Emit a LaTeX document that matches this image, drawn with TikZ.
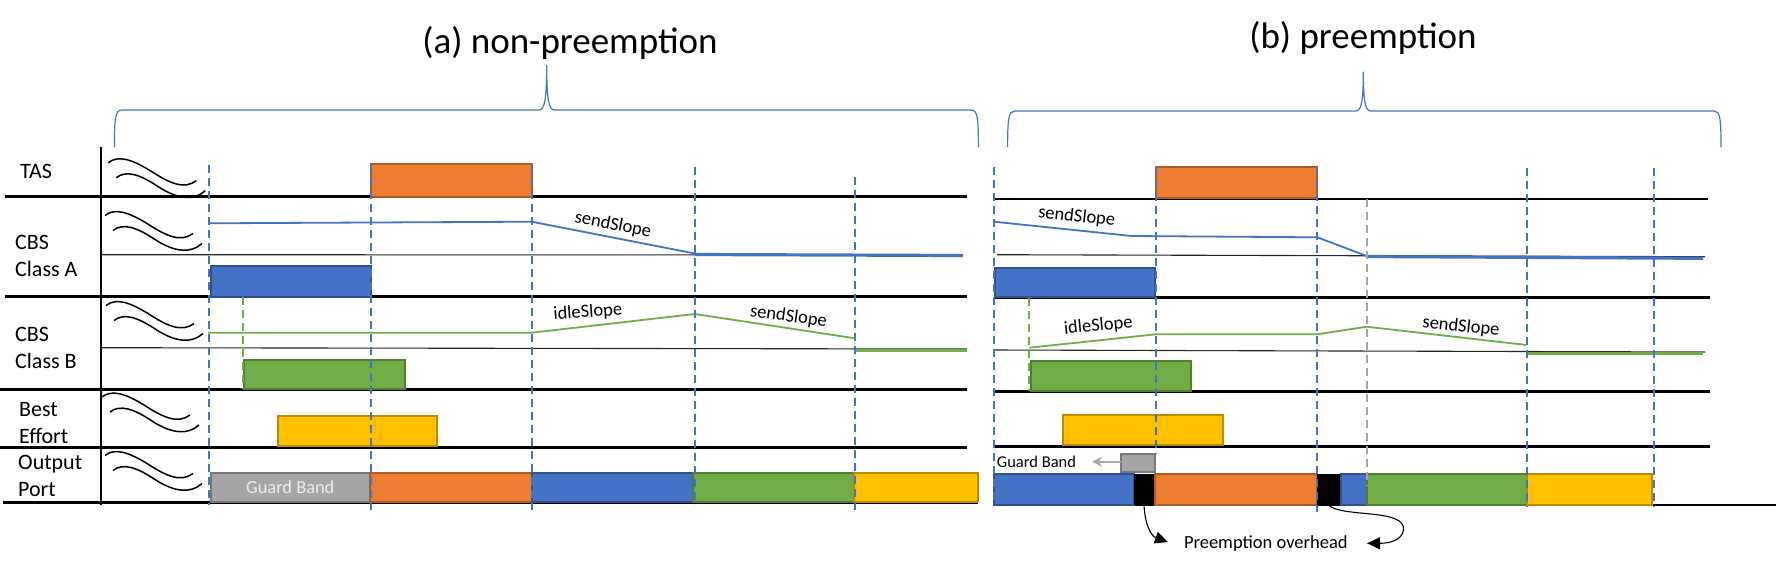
\documentclass[tikz,border=0pt]{standalone}
\usepackage{fontspec}
\setmainfont{Carlito}
\usetikzlibrary{arrows.meta}
\definecolor{cOr}{HTML}{ED7D31}\definecolor{cOrD}{HTML}{AE5A21}
\definecolor{cBl}{HTML}{4472C4}\definecolor{cBlD}{HTML}{2F528F}
\definecolor{cGr}{HTML}{70AD47}\definecolor{cGrD}{HTML}{507E32}
\definecolor{cYe}{HTML}{FFC000}\definecolor{cYeD}{HTML}{BC8C00}
\definecolor{cGy}{HTML}{A5A5A5}\definecolor{cGyD}{HTML}{787878}
\begin{document}
\begin{tikzpicture}[x=1pt,y=-1pt,
  lane/.style={line width=2.6pt,black},
  thinref/.style={line width=1.1pt,black!85},
  vd/.style={draw=cBl,line width=1.8pt,dash pattern=on 8pt off 5pt},
  gd/.style={draw=cGr,line width=1.8pt,dash pattern=on 8pt off 5pt},
  yd/.style={draw=cGy,line width=1.8pt,dash pattern=on 8pt off 5pt},
  ob/.style={line width=1.8pt,fill=cOr,draw=cOrD},
  bb/.style={line width=1.8pt,fill=cBl,draw=cBlD},
  gb/.style={line width=1.8pt,fill=cGr,draw=cGrD},
  yb/.style={line width=1.8pt,fill=cYe,draw=cYeD},
  sb/.style={line width=1.8pt,fill=cGy,draw=cGyD},
  kb/.style={fill=black},
  lbl/.style={font=\fontsize{22}{27}\selectfont,inner sep=0pt,anchor=west,align=left},
  slope/.style={font=\fontsize{18.5}{22}\selectfont,inner sep=0pt},
  title/.style={font=\fontsize{37}{44}\selectfont,inner sep=0pt,anchor=base},
  bcurve/.style={draw=cBl,line width=1.8pt},
  gcurve/.style={draw=cGr,line width=1.8pt},
  bflat/.style={draw=cBl,line width=3.2pt},
  gflat/.style={draw=cGr,line width=3.2pt},
  brace/.style={draw=cBl,line width=1.2pt},
  wave/.pic={
    \draw[line width=1.5pt] (0,0) .. controls (10,-8) and (24,-3) .. (42,8) .. controls (62,21) and (76,27) .. (88,18);
    \draw[line width=1.5pt] (8,15) .. controls (18,7) and (32,12) .. (50,24) .. controls (70,37) and (86,38) .. (97,28);
  }
]
\fill[white] (0,0) rectangle (1778,566);
\useasboundingbox (0,0) rectangle (1778,566);

% ---------- titles and braces ----------
\node[title] (ta) at (570,53.3) {(a) non-preemption};
\node[title] (tb) at (1363,48.3) {(b) preemption};
\draw[brace] (114.4,147) .. controls (114.4,117) and (115.5,110) .. (122,110) -- (539,110)
  .. controls (544.5,110) and (546.7,100) .. (546.7,65)
  .. controls (546.7,100) and (548.9,110) .. (554.4,110) -- (971,110)
  .. controls (977.5,110) and (978.4,117) .. (978.4,147);
\draw[brace] (1007.6,147) .. controls (1007.6,118) and (1008.7,111) .. (1015,111) -- (1356,111)
  .. controls (1361.3,111) and (1363.3,101) .. (1363.3,71.7)
  .. controls (1363.3,101) and (1365.3,111) .. (1370.6,111) -- (1714,111)
  .. controls (1720,111) and (1721,118) .. (1721,147);

% ---------- row labels ----------
\node[lbl] (ltas) at (20,171.7) {TAS};
\node[lbl] (lcbsa) at (15,256) {CBS\\Class A};
\node[lbl] (lcbsb) at (15,347.5) {CBS\\Class B};
\node[lbl] (lbe) at (19,423.5) {Best\\Effort};
\node[lbl] (lout) at (18,476) {Output\\Port};

% ---------- panel (a) frame ----------
\draw[line width=2.8pt] (101,147) -- (101,505);
\draw[lane] (5,196.7) -- (967,196.7);
\draw[lane] (5,296.7) -- (967,296.7);
\draw[lane] (0,389.3) -- (967,389.3);
\draw[lane] (0,447.7) -- (967,447.7);
\draw[lane] (3,502.7) -- (978,502.7);
\draw[thinref] (101,254.7) -- (963,255);
\draw[thinref] (101,347.7) -- (967,349);

\pic at (108.3,162.7) {wave};
\pic at (105,215.5) {wave};
\pic at (106,305.5) {wave};
\pic at (102,397) {wave};
\pic at (105,455.5) {wave};

% ---------- panel (a) boxes ----------
\draw[ob] (371,164.3) rectangle (531.7,196.7);
\draw[bb] (211,265.7) rectangle (371,296.7);
\draw[gb] (244.3,360) rectangle (405.3,389);
\draw[yb] (278,416) rectangle (437,445.7);
\draw[sb] (210.7,473) rectangle (370,502);
\draw[ob] (370,473) rectangle (531.7,502);
\draw[bb] (531.7,473) rectangle (692.7,502);
\draw[gb] (692.7,473) rectangle (854,502);
\draw[yb] (854,473) rectangle (977.9,502);
\node[font=\fontsize{18.4}{22}\selectfont,text=white!93!black,inner sep=0pt] (gba) at (290.3,487.5) {Guard Band};

% ---------- panel (a) credit curves ----------
\draw[bcurve] (208,223.3) -- (531.7,221.7) -- (694.8,253.5);
\draw[bflat] (694.8,254.5) -- (962.8,255.5);
\draw[gcurve] (208,332.7) -- (531.7,332.7) -- (694.8,314) -- (855,338.3);
\draw[gflat] (855,350.5) -- (967,350.5);
\node[slope,rotate=-11] (sa1) at (613,225) {sendSlope};
\node[slope,rotate=4] (ia1) at (587.8,312.3) {idleSlope};
\node[slope,rotate=-8] (sa2) at (788.5,316.7) {sendSlope};

% ---------- panel (a) dashed markers ----------
\draw[vd] (208.7,165) -- (208.7,505);
\draw[vd] (371,165) -- (371,510);
\draw[vd] (531.7,165) -- (531.7,510);
\draw[vd] (694.8,167) -- (694.8,505);
\draw[vd] (855,177) -- (855,513);
\draw[gd] (243.3,297) -- (243.3,389);

% ---------- panel (b) frame ----------
\draw[lane] (993,199) -- (1708,199);
\draw[lane] (994,297.7) -- (1710,297.7);
\draw[lane] (994,391.7) -- (1710,391.7);
\draw[lane] (994,446.7) -- (1710,446.7);
\draw[lane] (994,505) -- (1776,505);
\draw[thinref] (997,254.7) -- (1705,256.7);
\draw[thinref] (993,350) -- (1705,352);

% ---------- panel (b) boxes ----------
\draw[ob] (1155.7,166.7) rectangle (1317.3,198.3);
\draw[bb] (995,267.7) rectangle (1155,296.7);
\draw[gb] (1030.7,360.7) rectangle (1191,390.7);
\draw[yb] (1062.7,415) rectangle (1223.3,445);
\draw[sb] (1120.7,454.3) rectangle (1155,472.3);
\draw[bb] (994,474) rectangle (1134.3,505);
\fill[kb] (1134.3,474) rectangle (1155,505);
\draw[ob] (1155,474) rectangle (1316.7,505);
\fill[kb] (1316.7,474) rectangle (1340.7,505);
\draw[bb] (1340.7,474) rectangle (1366.7,505);
\draw[gb] (1366.7,474) rectangle (1527,505);
\draw[yb] (1527,474) rectangle (1652.3,505);

% ---------- panel (b) credit curves ----------
\draw[bcurve] (994,221.7) -- (1131.7,236) -- (1317.3,237.3) -- (1366.7,256);
\draw[bflat] (1366.7,256.5) -- (1703,258.3);
\draw[gcurve] (1029.3,347.7) -- (1155.7,334.3) -- (1317.3,334.3) -- (1366.7,326.7) -- (1526.7,345);
\draw[gflat] (1526.7,353.3) -- (1703,353.3);
\node[slope,rotate=-6.5] (sb1) at (1076.7,216.7) {sendSlope};
\node[slope,rotate=5.5] (ib1) at (1098.3,326) {idleSlope};
\node[slope,rotate=-6] (sb2) at (1461,326.7) {sendSlope};

% ---------- panel (b) dashed markers ----------
\draw[vd] (994,167) -- (994,505);
\draw[vd] (1155.7,167) -- (1155.7,454);
\draw[vd] (1317,167) -- (1317,512);
\draw[vd] (1527,168) -- (1527,507);
\draw[vd] (1654,168) -- (1654,507);
\draw[yd] (1366.7,199) -- (1366.7,486);
\draw[gd] (1029.3,297.7) -- (1029.3,391);

% ---------- guard band and preemption overhead ----------
\node[font=\fontsize{16.5}{20}\selectfont,inner sep=0pt,anchor=west] (gbt) at (996.7,461.7) {Guard Band};
\coordinate (gbs) at (1120.7,461.7);
\coordinate (gbe) at (1092,461.7);
\draw[cGy,line width=1.6pt,-{Stealth[length=10pt,width=10pt]}] (gbs) -- (gbe);

\node[font=\fontsize{18.5}{22}\selectfont,inner sep=0pt] (po) at (1265.8,543.3) {Preemption overhead};
\coordinate (k1) at (1144,505);
\coordinate (k2) at (1328.3,505);
\coordinate (t1) at (1168,542);
\coordinate (t2) at (1367,543.3);
\draw[line width=1.1pt,-{Triangle[length=13pt,width=12pt]}] (k1) .. controls (1145,525) and (1151,536) .. (t1);
\draw[line width=1.1pt,-{Triangle[length=13pt,width=12pt]}] (k2) .. controls (1342,518) and (1406,508) .. (1403.5,530) .. controls (1402,540) and (1390,543.3) .. (t2);
\end{tikzpicture}
\end{document}
